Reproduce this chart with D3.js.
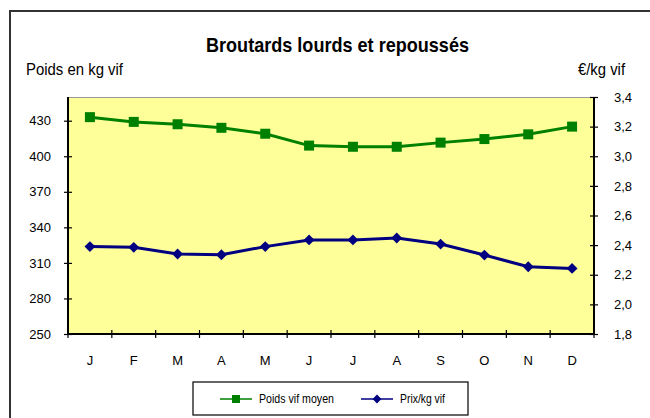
<!DOCTYPE html>
<html>
<head>
<meta charset="utf-8">
<script src="https://cdn.jsdelivr.net/npm/d3@7"></script>
<style>
  html, body { margin: 0; padding: 0; background: #fff; }
  svg text { font-family: "Liberation Sans", Arial, sans-serif; fill: #000; }
</style>
</head>
<body>
<svg id="chart" width="650" height="418"></svg>
<script>
// données
const mois   = ["J", "F", "M", "A", "M", "J", "J", "A", "S", "O", "N", "D"];
const poids  = [433, 429, 427, 424, 419, 409, 408, 408, 411.5, 414.5, 418.5, 425];
const prix   = [2.39, 2.385, 2.34, 2.335, 2.39, 2.435, 2.435, 2.448, 2.407, 2.333, 2.254, 2.243];
const ticksPoids = [250, 280, 310, 340, 370, 400, 430];
const ticksPrix  = [1.8, 2.0, 2.2, 2.4, 2.6, 2.8, 3.0, 3.2, 3.4];

const svg = d3.select("#chart");
const plot = { left: 68, right: 594, top: 97, bottom: 334 };

// cadre extérieur (déborde à droite et en bas)
svg.append("rect")
  .attr("x", 10).attr("y", 11)
  .attr("width", 660).attr("height", 420)
  .attr("fill", "none").attr("stroke", "#333").attr("stroke-width", 2);

/* ------------------------------------------------------------------
 * échelles
 * ----------------------------------------------------------------*/
const x = d3.scaleBand().domain(d3.range(mois.length)).range([plot.left, plot.right]);
const yL = d3.scaleLinear().domain([250, 450]).range([plot.bottom, plot.top]);
const yR = d3.scaleLinear().domain([1.8, 3.4]).range([plot.bottom, plot.top]);

// fond de la zone de tracé
svg.append("rect")
  .attr("x", plot.left).attr("y", plot.top)
  .attr("width", plot.right - plot.left).attr("height", plot.bottom - plot.top)
  .attr("fill", "#ffff99");
svg.append("line")
  .attr("x1", plot.left).attr("x2", plot.right)
  .attr("y1", plot.top + 0.5).attr("y2", plot.top + 0.5)
  .attr("stroke", "#999").attr("stroke-width", 1);

/* ------------------------------------------------------------------
 * axes
 * ----------------------------------------------------------------*/
function crossTicks(g) {
  g.select(".domain").attr("stroke", "#000").attr("stroke-width", 2)
    .attr("d", `M0,${plot.top}V${plot.bottom}`);
  g.selectAll(".tick line").attr("stroke", "#000").attr("stroke-width", 1.2)
    .attr("x1", -4).attr("x2", 4);
  g.selectAll("text").style("font-size", "13px");
}

const gL = svg.append("g")
  .attr("transform", `translate(${plot.left},0)`)
  .call(d3.axisLeft(yL).tickValues(ticksPoids).tickSizeOuter(0).tickPadding(11));
crossTicks(gL);

const gR = svg.append("g")
  .attr("transform", `translate(${plot.right},0)`)
  .call(d3.axisRight(yR).tickValues(ticksPrix).tickFormat(d => d3.format(".1f")(d).replace(".", ","))
    .tickSizeOuter(0).tickPadding(14));
crossTicks(gR);

// axe des mois : graduations aux limites des bandes
const gX = svg.append("g").attr("transform", `translate(0,${plot.bottom})`);
gX.append("line")
  .attr("x1", plot.left - 1).attr("x2", plot.right + 1)
  .attr("stroke", "#000").attr("stroke-width", 2);
gX.selectAll("line.tk")
  .data(d3.range(mois.length + 1))
  .join("line")
  .attr("class", "tk")
  .attr("x1", i => plot.left + i * x.bandwidth()).attr("x2", i => plot.left + i * x.bandwidth())
  .attr("y1", -4).attr("y2", 4)
  .attr("stroke", "#000").attr("stroke-width", 1.2);
gX.selectAll("text")
  .data(mois)
  .join("text")
  .attr("x", (_, i) => x(i) + x.bandwidth() / 2)
  .attr("y", 31)
  .attr("text-anchor", "middle")
  .style("font-size", "13px")
  .text(d => d);

/* ------------------------------------------------------------------
 * séries
 * ----------------------------------------------------------------*/
const cx = i => x(i) + x.bandwidth() / 2;

svg.append("path")
  .datum(poids)
  .attr("fill", "none").attr("stroke", "#008000").attr("stroke-width", 3)
  .attr("d", d3.line().x((_, i) => cx(i)).y(d => yL(d)));
svg.selectAll("rect.carre")
  .data(poids)
  .join("rect")
  .attr("class", "carre")
  .attr("x", (_, i) => cx(i) - 5).attr("y", d => yL(d) - 5)
  .attr("width", 10).attr("height", 10)
  .attr("fill", "#008000");

svg.append("path")
  .datum(prix)
  .attr("fill", "none").attr("stroke", "#000080").attr("stroke-width", 3)
  .attr("d", d3.line().x((_, i) => cx(i)).y(d => yR(d)));
const losange = d3.symbol().type(d3.symbolDiamond2).size(75);
svg.selectAll("path.losange")
  .data(prix)
  .join("path")
  .attr("class", "losange")
  .attr("transform", (d, i) => `translate(${cx(i)},${yR(d)})`)
  .attr("d", losange)
  .attr("fill", "#000080");

/* ------------------------------------------------------------------
 * titres (police étroite imitée par textLength)
 * ----------------------------------------------------------------*/
svg.append("text")
  .attr("x", 206).attr("y", 52)
  .attr("textLength", 263).attr("lengthAdjust", "spacingAndGlyphs")
  .style("font-size", "21px").style("font-weight", "bold")
  .text("Broutards lourds et repoussés");
svg.append("text")
  .attr("x", 26).attr("y", 75)
  .attr("textLength", 97).attr("lengthAdjust", "spacingAndGlyphs")
  .style("font-size", "16px")
  .text("Poids en kg vif");
svg.append("text")
  .attr("x", 578).attr("y", 75)
  .attr("textLength", 47).attr("lengthAdjust", "spacingAndGlyphs")
  .style("font-size", "16px")
  .text("€/kg vif");

/* ------------------------------------------------------------------
 * légende
 * ----------------------------------------------------------------*/
const leg = svg.append("g");
leg.append("rect")
  .attr("x", 193).attr("y", 382).attr("width", 275).attr("height", 33)
  .attr("fill", "#fff").attr("stroke", "#000").attr("stroke-width", 1.2);
const entrees = [
  { nom: "Poids vif moyen", couleur: "#008000", x0: 220, forme: "carre", larg: 75 },
  { nom: "Prix/kg vif",     couleur: "#000080", x0: 361, forme: "losange", larg: 45 }
];
entrees.forEach(e => {
  leg.append("line")
    .attr("x1", e.x0).attr("x2", e.x0 + 32).attr("y1", 399).attr("y2", 399)
    .attr("stroke", e.couleur).attr("stroke-width", 1.5);
  if (e.forme === "carre") {
    leg.append("rect").attr("x", e.x0 + 12).attr("y", 395).attr("width", 8).attr("height", 8).attr("fill", e.couleur);
  } else {
    leg.append("path").attr("transform", `translate(${e.x0 + 16},399)`)
      .attr("d", d3.symbol().type(d3.symbolDiamond2).size(50)).attr("fill", e.couleur);
  }
  leg.append("text")
    .attr("x", e.x0 + 39).attr("y", 403)
    .attr("textLength", e.larg).attr("lengthAdjust", "spacingAndGlyphs")
    .style("font-size", "13px")
    .text(e.nom);
});
</script>
</body>
</html>
